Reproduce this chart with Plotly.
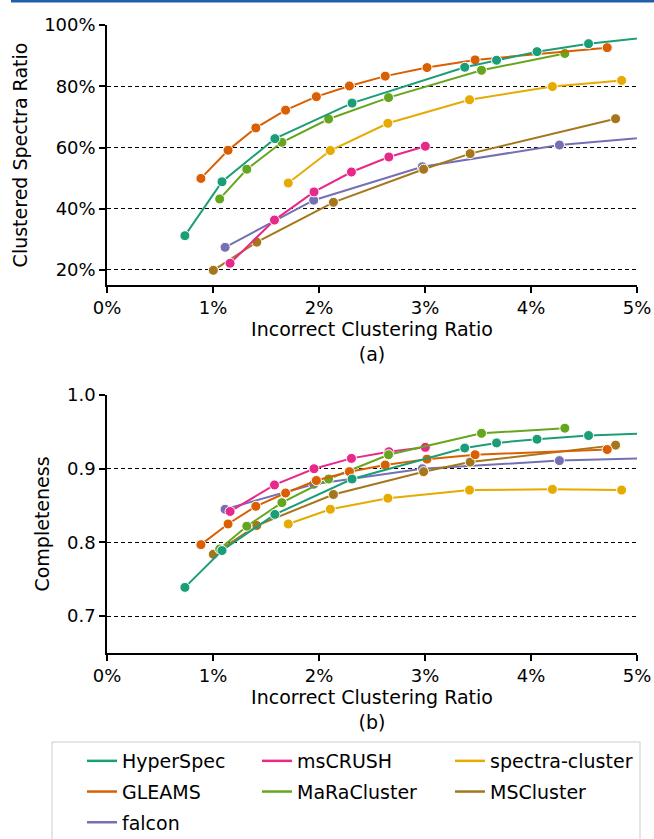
import plotly.graph_objects as go

FONT = "DejaVu Sans, sans-serif"

methods = ["HyperSpec", "GLEAMS", "falcon", "msCRUSH", "MaRaCluster", "spectra-cluster", "MSCluster"]
colors = ["#1b9e77", "#d95f02", "#7570b3", "#e7298a", "#66a61e", "#e6ab02", "#a6761d"]

# incorrect clustering ratio (%)
hs_x = [0.735, 1.085, 1.584, 2.312, 3.375, 3.675, 4.057, 4.543, 5.35]
gl_x = [0.886, 1.142, 1.404, 1.685, 1.975, 2.287, 2.625, 3.019, 3.473, 4.719]
fa_x = [1.114, 1.950, 2.975, 4.268, 5.6]
mc_x = [1.161, 1.580, 1.953, 2.306, 2.659, 3.003]
ma_x = [1.063, 1.319, 1.650, 2.091, 2.656, 3.533, 4.319]
sc_x = [1.710, 2.107, 2.650, 3.420, 4.202, 4.855]
ms_x = [1.003, 1.413, 2.136, 2.987, 3.426, 4.798]

# clustered spectra ratio (%)
hs_csr = [31.2, 48.8, 62.9, 74.5, 86.2, 88.5, 91.3, 93.9, 96.9]
gl_csr = [49.9, 59.1, 66.4, 72.2, 76.6, 80.1, 83.3, 86.1, 88.6, 92.6]
fa_csr = [27.4, 42.8, 53.7, 60.8, 64.9]
mc_csr = [22.2, 36.3, 45.5, 52.0, 56.9, 60.4]
ma_csr = [43.2, 52.9, 61.7, 69.3, 76.3, 85.2, 90.7]
sc_csr = [48.4, 59.0, 67.9, 75.6, 79.9, 81.9]
ms_csr = [19.9, 29.1, 42.1, 52.9, 58.0, 69.4]

# completeness
hs_comp = [0.739, 0.789, 0.838, 0.886, 0.928, 0.935, 0.940, 0.945, 0.949]
gl_comp = [0.797, 0.825, 0.849, 0.867, 0.884, 0.896, 0.905, 0.913, 0.919, 0.926]
fa_comp = [0.845, 0.879, 0.900, 0.911, 0.916]
mc_comp = [0.842, 0.878, 0.900, 0.914, 0.923, 0.929]
ma_comp = [0.791, 0.822, 0.854, 0.886, 0.919, 0.948, 0.955]
sc_comp = [0.825, 0.845, 0.860, 0.871, 0.872, 0.871]
ms_comp = [0.784, 0.823, 0.865, 0.896, 0.909, 0.932]

xs = [hs_x, gl_x, fa_x, mc_x, ma_x, sc_x, ms_x]
csr = [hs_csr, gl_csr, fa_csr, mc_csr, ma_csr, sc_csr, ms_csr]
comp = [hs_comp, gl_comp, fa_comp, mc_comp, ma_comp, sc_comp, ms_comp]

x_ticks = [0, 1, 2, 3, 4, 5]
x_ticklabels = ["0%", "1%", "2%", "3%", "4%", "5%"]
y1_ticks = [20, 40, 60, 80, 100]
y1_ticklabels = ["20%", "40%", "60%", "80%", "100%"]
y2_ticks = [0.7, 0.8, 0.9, 1.0]
y2_ticklabels = ["0.7", "0.8", "0.9", "1.0"]

fig = go.Figure()

draw_order = [2, 6, 5, 3, 4, 1, 0]
for i in draw_order:
    for xa, ya, ys in (("x", "y", csr[i]), ("x2", "y2", comp[i])):
        fig.add_trace(go.Scatter(
            x=xs[i], y=ys, xaxis=xa, yaxis=ya, mode="lines+markers",
            line=dict(color=colors[i], width=2),
            marker=dict(size=10, color=colors[i], line=dict(color="white", width=1)),
            showlegend=False, name=methods[i]))

legend_cols = [["legend", [0, 1, 2]], ["legend2", [3, 4]], ["legend3", [5, 6]]]
for leg, idxs in legend_cols:
    for i in idxs:
        fig.add_trace(go.Scatter(
            x=[None], y=[None], mode="lines", name=methods[i],
            line=dict(color=colors[i], width=2.5), legend=leg,
            legendgroup=methods[i], showlegend=True))

W, H = 654, 839
L, R, T, B = 107, 17, 25, 186
pw, ph = W - L - R, H - T - B

def px_x(p):
    return (p - L) / pw

def px_y(p):
    return (H - B - p) / ph

axis_common = dict(showline=True, linecolor="black", linewidth=1.5, ticks="outside",
                   ticklen=6, tickwidth=1.5, tickcolor="black", zeroline=False,
                   automargin=False,
                   tickfont=dict(family=FONT, size=18, color="black"))
title_font = dict(family=FONT, size=19, color="black")

fig.update_layout(
    width=W, height=H, margin=dict(l=L, r=R, t=T, b=B, autoexpand=False),
    paper_bgcolor="white", plot_bgcolor="white",
    font=dict(family=FONT, size=18, color="black"),
    xaxis=dict(domain=[0, 1], range=[0, 5], tickvals=x_ticks, ticktext=x_ticklabels,
               showgrid=False, anchor="y",
               title=dict(text="Incorrect Clustering Ratio<br>(a)", font=title_font, standoff=4),
               **axis_common),
    yaxis=dict(domain=[px_y(285), 1], range=[15.1, 100], tickvals=y1_ticks, ticktext=y1_ticklabels,
               showgrid=True, gridcolor="black", gridwidth=1, griddash="4px,3px", anchor="x",
               title=dict(text="Clustered Spectra Ratio", font=title_font, standoff=12),
               **axis_common),
    xaxis2=dict(domain=[0, 1], range=[0, 5], tickvals=x_ticks, ticktext=x_ticklabels,
                showgrid=False, anchor="y2",
                title=dict(text="Incorrect Clustering Ratio<br>(b)", font=title_font, standoff=4),
                **axis_common),
    yaxis2=dict(domain=[0, px_y(395)], range=[0.65, 1.0], tickvals=y2_ticks, ticktext=y2_ticklabels,
                showgrid=True, gridcolor="black", gridwidth=1, griddash="4px,3px", anchor="x2",
                title=dict(text="Completeness", font=title_font, standoff=12),
                **axis_common),
)

leg_common = dict(orientation="v", xanchor="left", yanchor="top", bgcolor="rgba(0,0,0,0)",
                  borderwidth=0, tracegroupgap=3, font=dict(family=FONT, size=19, color="black"))
fig.update_layout(
    legend=dict(x=px_x(82), y=px_y(742), **leg_common),
    legend2=dict(x=px_x(257), y=px_y(742), **leg_common),
    legend3=dict(x=px_x(450), y=px_y(742), **leg_common),
)

fig.add_shape(type="rect", xref="paper", yref="paper",
              x0=px_x(52), x1=px_x(640), y0=px_y(860), y1=px_y(742),
              line=dict(color="#cccccc", width=1), fillcolor="rgba(0,0,0,0)", layer="below")
fig.add_shape(type="rect", xref="paper", yref="paper",
              x0=px_x(11), x1=px_x(654), y0=px_y(2.5), y1=px_y(0),
              line=dict(width=0), fillcolor="#1f5fa8", layer="above")

# remove the default 8px page margin so the figure fills the window exactly
fig.write_html("out.html", config={"displayModeBar": False},
               post_script="document.body.style.margin='0';document.body.style.overflow='hidden';")
